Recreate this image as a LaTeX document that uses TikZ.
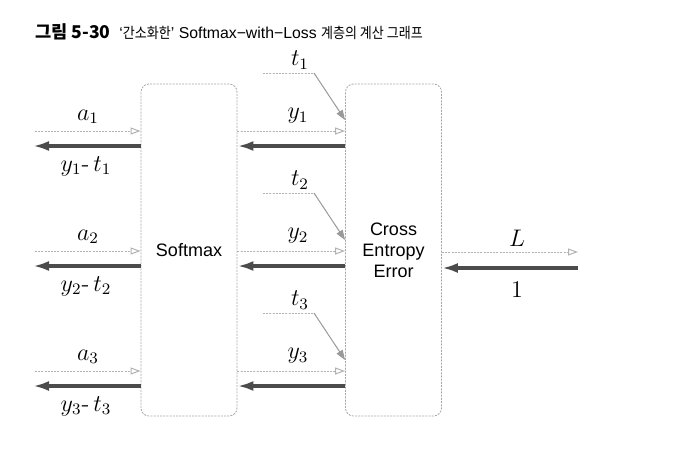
\documentclass[tikz,border=0pt]{standalone}
\usepackage{amsmath}
\usepackage{fontspec}
\newfontfamily\krfont{Noto Sans CJK KR}
\newfontfamily\krnarrow[FakeStretch=0.88]{Noto Sans CJK KR}
\newfontfamily\boxfont{Liberation Sans}
\usetikzlibrary{arrows.meta}

\newcommand{\kr}[1]{{\krnarrow\fontsize{7.4}{9}\selectfont #1}}

\begin{document}
\begin{tikzpicture}[
		x=0.5pt, y=-0.5pt,
		every node/.style={inner sep=1pt},
		layer/.style={draw=gray!70, dash pattern=on 1pt off 0.6pt, rounded corners=4pt,
			minimum width=48pt, minimum height=166pt, font=\boxfont\fontsize{9}{10.5}\selectfont, align=center},
		fwd/.style={draw=gray!60, dash pattern=on 1pt off 0.6pt, line width=0.5pt,
			-{Triangle[open, length=5pt, width=3.5pt]}},
		bwd/.style={draw=black!70, line width=1.6pt, -{Latex[length=8pt, width=5pt]}},
		tin/.style={draw=gray!80, line width=0.5pt, -{Triangle[length=5pt, width=3.5pt]}},
		lbl/.style={font=\large}
	]
	\useasboundingbox (0,0) rectangle (674,451);
	\node[anchor=west, font=\boxfont\fontsize{7.9}{10}\selectfont] (title) at (33,32)
		{{\krfont\fontsize{8.8}{10}\selectfont\bfseries 그림 5-30}\ \ ‘\kr{간소화한}’ Softmax−with−Loss \kr{계층의 계산 그래프}};

	\node[layer] (sm) at (189,250) {Softmax};
	\node[layer] (ce) at (393.5,250) {Cross\\Entropy\\Error};

	% rows
	\foreach \i/\y in {1/131, 2/251, 3/371} {
		\coordinate (in\i) at (35,\y);
		\coordinate (out\i) at (33,\y+15);
		\draw[fwd] (in\i) -- (sm.west |- in\i);
		\draw[bwd] (sm.west |- out\i) -- (out\i);
		\draw[fwd] (sm.east |- in\i) -- (ce.west |- in\i);
		\draw[bwd] (ce.west |- out\i) -- (sm.east |- out\i);
		\node[lbl] (a\i) at (88,\y-14) {$a_\i$};
		\node[lbl] (d\i) at (86,\y+35) {$y_\i$-\,$t_\i$};
		\node[lbl] (y\i) at (298,\y-15) {$y_\i$};
		\coordinate (ts\i) at (263,\y-58);
		\coordinate (tk\i) at (314,\y-58);
		\node[lbl] (t\i) at (300,\y-71) {$t_\i$};
		\draw[gray!60, dash pattern=on 1pt off 0.6pt, line width=0.5pt] (ts\i) -- (tk\i);
		\draw[tin] (tk\i) -- (ce.west |- 0,\y-11);
	}

	% loss
	\coordinate (lend) at (578,252);
	\coordinate (lstart) at (578,268);
	\draw[fwd] (ce.east |- lend) -- (lend);
	\draw[bwd] (lstart) -- (ce.east |- lstart);
	\node[lbl] (L) at (517,238) {$L$};
	\node[lbl] (one) at (517,290) {$1$};
\end{tikzpicture}
\end{document}
